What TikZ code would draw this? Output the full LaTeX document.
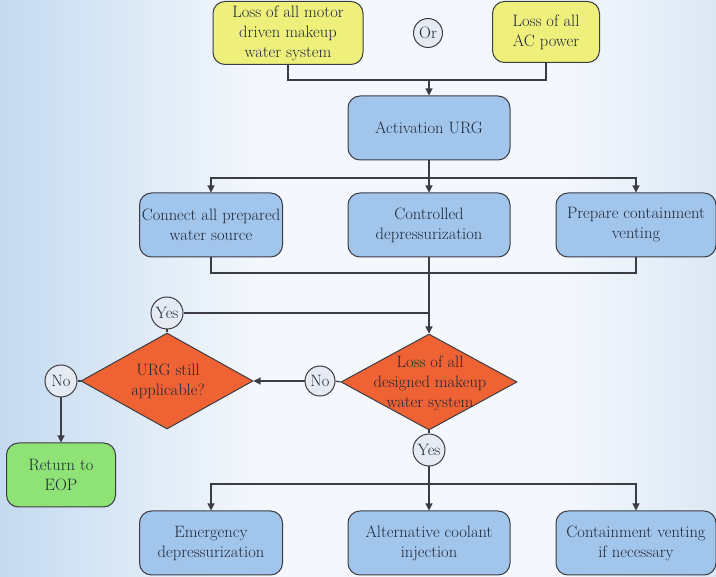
\documentclass[tikz,border=0pt]{standalone}
\usetikzlibrary{shapes.geometric,arrows.meta}
\definecolor{bgedge}{HTML}{C4DAF0}
\definecolor{bgmid}{HTML}{F4F8FC}
\definecolor{bgright}{HTML}{DCE8F5}
\definecolor{yellowfill}{HTML}{EFEF7C}
\definecolor{bluefill}{HTML}{A2C5EC}
\definecolor{redfill}{HTML}{EF6233}
\definecolor{greenfill}{HTML}{8EE276}
\definecolor{circfill}{HTML}{E6EAF2}
\definecolor{edge}{HTML}{3C3C44}
\definecolor{txt}{HTML}{1E2838}
\begin{document}
\begin{tikzpicture}[x=1pt,y=-1pt,
  base/.style={draw=edge, line width=1pt, align=center, inner sep=0pt,
    text=txt, font=\fontsize{16.5}{20}\selectfont},
  box/.style={base, rounded corners=12pt},
  yellowbox/.style={box, fill=yellowfill},
  bluebox/.style={box, fill=bluefill, minimum width=#1, minimum height=64pt},
  greenbox/.style={box, fill=greenfill},
  decision/.style={base, diamond, fill=redfill, minimum width=#1, minimum height=96pt},
  dtext/.style={align=center, text=txt, inner sep=0pt, font=\fontsize{16.5}{20}\selectfont},
  tag/.style={base, circle, fill=circfill, minimum size=#1},
  wire/.style={draw=edge, line width=1.1pt},
  arr/.style={wire, -{Triangle[length=7pt,width=7pt]}}]
\useasboundingbox (0,0) rectangle (716,577);
% soft backdrop: blue at the sides, nearly white in the middle
\fill[bgmid] (0,0) rectangle (716,577);
\shade[left color=bgedge, right color=bgmid] (0,0) rectangle (260,577);
\shade[left color=bgmid, right color=bgright] (560,0) rectangle (716,577);

% triggering events
\node[yellowbox, minimum width=150pt, minimum height=63pt] (motor) at (288,33) {Loss of all motor\\driven makeup\\water system};
\node[tag=29pt] (or) at (428,33) {Or};
\node[yellowbox, minimum width=107pt, minimum height=61pt] (ac) at (546,32) {Loss of all\\AC power};

% guideline activation and first actions
\node[bluebox=162pt] (urg) at (429,128) {Activation URG};
\node[bluebox=143pt] (conn) at (211,225) {Connect all prepared\\water source};
\node[bluebox=162pt] (ctrl) at (429,225) {Controlled\\depressurization};
\node[bluebox=160pt] (prep) at (636,225) {Prepare containment\\venting};

% decisions
\node[decision=176pt] (loss) at (429,382) {};
\node[dtext] (losst) at (430,383) {Loss of all\\designed makeup\\water system};
\node[decision=172pt] (still) at (167,381) {};
\node[dtext] (stillt) at (168,381) {URG still\\applicable?};
\node[tag=32pt] (yesup) at (167,313) {Yes};
\node[tag=30pt] (nomid) at (320,381) {No};
\node[tag=32pt] (noleft) at (61,381) {No};
\node[tag=32pt] (yesdown) at (429,450) {Yes};

% outcomes
\node[greenbox, minimum width=109pt, minimum height=64pt] (eop) at (61,475) {Return to\\EOP};
\node[bluebox=143pt] (emer) at (211,543) {Emergency\\depressurization};
\node[bluebox=162pt] (alt) at (429,543) {Alternative coolant\\injection};
\node[bluebox=160pt] (vent) at (636,543) {Containment venting\\if necessary};

% junction points
\coordinate (jtop) at (429,80);
\coordinate (jurg) at (429,178);
\coordinate (jrow) at (429,273);
\coordinate (jyes) at (429,313);
\coordinate (jbot) at (429,484);

% connectors
\draw[wire] (motor.south) |- (jtop) -| (ac.south);
\draw[arr] (jtop) -- (urg.north);
\draw[wire] (urg.south) -- (jurg);
\draw[arr] (jurg) -| (conn.north);
\draw[arr] (jurg) -| (prep.north);
\draw[arr] (jurg) -- (ctrl.north);
\draw[wire] (conn.south) |- (jrow) -| (prep.south);
\draw[wire] (ctrl.south) -- (jrow);
\draw[arr] (jrow) -- (loss.north);
\draw[wire] (yesup.east) -- (jyes);
\draw[wire] (still.north) -- (yesup.south);
\draw[wire] (loss.west) -- (nomid.east);
\draw[arr] (nomid.west) -- (still.east);
\draw[wire] (still.west) -- (noleft.east);
\draw[arr] (noleft.south) -- (eop.north);
\draw[wire] (loss.south) -- (yesdown.north);
\draw[wire] (yesdown.south) -- (jbot);
\draw[arr] (jbot) -| (emer.north);
\draw[arr] (jbot) -| (vent.north);
\draw[arr] (jbot) -- (alt.north);
\end{tikzpicture}
\end{document}
